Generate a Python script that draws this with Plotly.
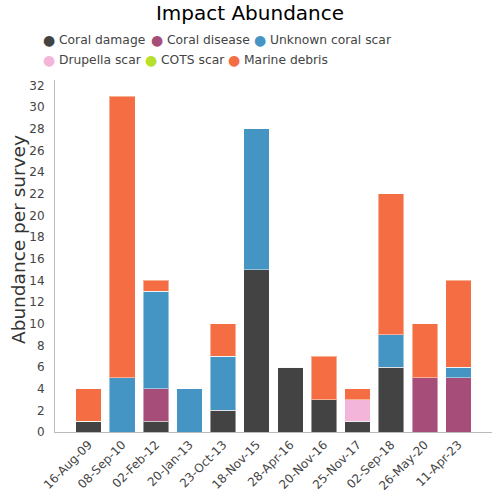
import plotly.graph_objects as go

dates = ["16-Aug-09", "08-Sep-10", "02-Feb-12", "20-Jan-13", "23-Oct-13", "18-Nov-15",
         "28-Apr-16", "20-Nov-16", "25-Nov-17", "02-Sep-18", "26-May-20", "11-Apr-23"]

coral_damage = [1, 0, 1, 0, 2, 15, 6, 3, 1, 6, 0, 0]
coral_disease = [0, 0, 3, 0, 0, 0, 0, 0, 0, 0, 5, 5]
unknown_scar = [0, 5, 9, 4, 5, 13, 0, 0, 0, 3, 0, 1]
drupella_scar = [0, 0, 0, 0, 0, 0, 0, 0, 2, 0, 0, 0]
cots_scar = [0, 0, 0, 0, 0, 0, 0, 0, 0, 0, 0, 0]
marine_debris = [3, 26, 1, 0, 3, 0, 0, 4, 1, 13, 5, 8]

series_names = ["Coral damage", "Coral disease", "Unknown coral scar",
                "Drupella scar", "COTS scar", "Marine debris"]
series_values = [coral_damage, coral_disease, unknown_scar,
                 drupella_scar, cots_scar, marine_debris]
series_colors = ["#434343", "#a64d79", "#4495c4", "#f3b6da", "#b6e02a", "#f46d43"]

y_title = "Abundance per survey"

# custom legend entry positions (window pixels)
legend_pos = [(49, 40), (157, 40), (260, 40), (49, 60), (151, 60), (234, 60)]

FONT = "DejaVu Sans"
W, H = 500, 500
ML, MR, MT, MB = 55, 8, 80, 68

fig = go.Figure()
for name, vals, color in zip(series_names, series_values, series_colors):
    fig.add_trace(go.Bar(
        x=dates, y=vals, name=name, marker_color=color,
        marker_line=dict(color="rgba(255,255,255,0.45)", width=1),
        showlegend=False,
    ))

def to_paper(px, py):
    return (px - ML) / (W - ML - MR), (H - MB - py) / (H - MT - MB)

annotations = []
for name, color, (px, py) in zip(series_names, series_colors, legend_pos):
    x0, y0 = to_paper(px, py)
    x1, _ = to_paper(px + 8, py)
    annotations.append(dict(
        text="●", x=x0, y=y0, xref="paper", yref="paper",
        xanchor="center", yanchor="middle", showarrow=False,
        font=dict(family=FONT, size=14, color=color),
    ))
    annotations.append(dict(
        text=name, x=x1, y=y0, xref="paper", yref="paper",
        xanchor="left", yanchor="middle", showarrow=False,
        font=dict(family=FONT, size=12.3, color="#444444"),
    ))

tx, ty = to_paper(18, 240)
annotations.append(dict(
    text=y_title, x=tx, y=ty, xref="paper", yref="paper", textangle=-90,
    xanchor="center", yanchor="middle", showarrow=False,
    font=dict(family=FONT, size=18.5, color="#333333"),
))

fig.update_layout(
    width=W, height=H,
    barmode="stack", bargap=0.24,
    plot_bgcolor="white", paper_bgcolor="white",
    margin=dict(l=ML, r=MR, t=MT, b=MB),
    font=dict(family=FONT, size=12, color="#444444"),
    showlegend=False, hovermode=False,
    title=dict(text="Impact Abundance", x=0.5, xanchor="center",
               y=1 - 13 / H, yanchor="middle", yref="container",
               font=dict(family=FONT, size=20, color="#000000")),
    xaxis=dict(type="category", range=[-1, 12], tickangle=-45,
               showline=True, linecolor="#bbbbbb", linewidth=1,
               showgrid=False, ticks="", automargin=False,
               tickfont=dict(size=12, color="#444444")),
    yaxis=dict(range=[0, 32.5], dtick=2, tick0=0, showline=True,
               linecolor="#bbbbbb", linewidth=1, showgrid=False, zeroline=False,
               ticks="", ticklabelstandoff=7, automargin=False,
               tickfont=dict(size=12, color="#444444")),
    annotations=annotations,
)

fig.write_html("out.html",
               config={"displayModeBar": False, "staticPlot": True},
               post_script="document.body.style.margin='0';document.body.style.overflow='hidden';")
